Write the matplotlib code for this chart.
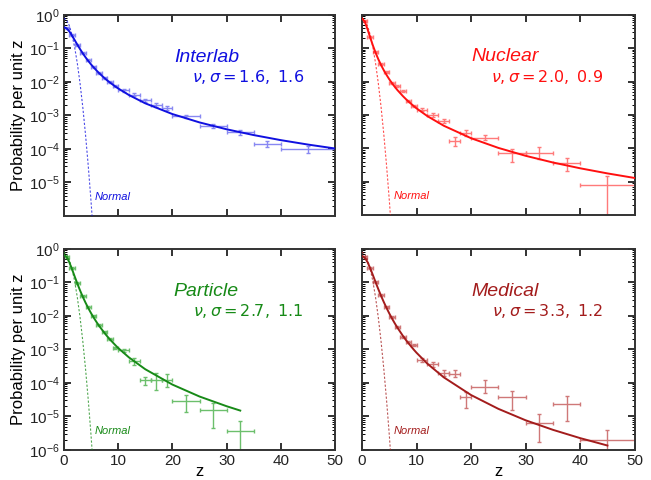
import numpy as np
import matplotlib
matplotlib.use('Agg')
import matplotlib.pyplot as plt
from matplotlib.ticker import LogLocator, NullFormatter

matplotlib.rcParams.update({'font.family': ['Liberation Sans', 'DejaVu Sans'],
                            'mathtext.fontset': 'dejavusans'})

# bins shared by all four data sets
z_bins = [0.5, 1.5, 2.5, 3.5, 4.5, 5.5, 6.5, 7.5, 8.5, 9.5,
          11, 13, 15, 17, 19, 22.5, 27.5, 32.5, 37.5, 45]
z_halfw = [0.5] * 10 + [1] * 5 + [2.5] * 4 + [5]

# fitted curves
z_curve = [0, 0.5, 1, 1.5, 2, 2.5, 3, 3.5, 4, 4.5, 5, 5.5, 6, 6.5, 7.5, 8, 8.5, 9.5,
           10, 12, 15, 20, 25, 30, 35, 40, 45, 50]
interlab_curve = [0.43, 0.398, 0.324, 0.243, 0.177, 0.129, 0.095, 0.0711, 0.0544, 0.0424,
                  0.0336, 0.0271, 0.0222, 0.0183, 0.0130, 0.0111, 0.0096, 0.00728, 0.00642,
                  0.00406, 0.00230, 0.00110, 0.000619, 0.000386, 0.000259, 0.000183,
                  0.000135, 0.000103]
nuclear_curve = [0.786, 0.634, 0.382, 0.213, 0.1217, 0.0734, 0.0468, 0.0314, 0.0219, 0.0159,
                 0.0118, 0.0090, 0.00702, 0.00557, 0.00368, 0.00305, 0.00255, 0.00184,
                 0.00158, 0.000921, 0.000475, 0.000201, 0.000103, 5.97e-5, 3.76e-5,
                 2.52e-5, 1.77e-5, 1.29e-5]
particle_curve = [0.663, 0.578, 0.404, 0.2515, 0.151, 0.0917, 0.0574, 0.0371, 0.0249, 0.0172,
                  0.01224, 0.00893, 0.00666, 0.00507, 0.00309, 0.00246, 0.00199, 0.00134,
                  0.00111, 0.000578, 0.000257, 8.95e-5, 3.94e-5, 2.02e-5]
particle_zend = 32.5
particle_yend = 1.50e-5
medical_curve = [0.617, 0.553, 0.409, 0.268, 0.166, 0.1015, 0.0628, 0.0398, 0.0260, 0.0174,
                 0.01195, 0.00843, 0.00607, 0.00447, 0.00255, 0.00197, 0.00155, 0.000985,
                 0.000798, 0.000375, 0.000147, 4.36e-5, 1.69e-5, 7.7e-6, 4.0e-6, 2.26e-6,
                 1.36e-6]

z_normal = [0, 0.5, 1, 1.5, 2, 2.5, 3, 3.5, 4, 4.5, 5, 5.5]
y_normal = [0.798, 0.704, 0.484, 0.259, 0.108, 0.0350, 0.00886, 0.00175, 0.000268,
            3.19e-5, 2.97e-6, 2.15e-7]

# measured points and their error bars (in decades below / above)
interlab_pts = [0.40, 0.25, 0.125, 0.072, 0.044, 0.028, 0.019, 0.0135, 0.0098, 0.0076,
                0.0056, 0.0042, 0.0028, 0.0021, 0.00166, 0.00093, 0.00048, 0.00031,
                0.00014, 1.0e-4]
interlab_lo = [0.03] * 10 + [0.04, 0.05, 0.05, 0.06, 0.07, 0.05, 0.07, 0.07, 0.10, 0.13]
interlab_hi = [0.03] * 10 + [0.04, 0.05, 0.05, 0.06, 0.07, 0.05, 0.07, 0.07, 0.10, 0.10]

nuclear_pts = [0.64, 0.22, 0.076, 0.033, 0.019, 0.0092, 0.0075, 0.0051, 0.0026, 0.0019,
               0.00145, 0.00103, 0.00066, 0.000165, 0.00029, 0.00021, 7.1e-5, 7.4e-5,
               3.7e-5, 7.9e-6]
nuclear_lo = [0.03] * 10 + [0.05, 0.06, 0.07, 0.15, 0.10, 0.08, 0.26, 0.20, 0.25, 2.0]
nuclear_hi = [0.03] * 10 + [0.05, 0.06, 0.07, 0.12, 0.10, 0.08, 0.14, 0.18, 0.15, 0.28]

particle_pts = [0.58, 0.26, 0.095, 0.040, 0.019, 0.0098, 0.0055, 0.0034, 0.0021, 0.00108,
                0.00093, 0.00044, 0.000123, 0.000123, 0.000123, 2.8e-5, 1.56e-5, 3.8e-6]
particle_lo = [0.03] * 10 + [0.05, 0.10, 0.15, 0.30, 0.20, 0.30, 0.55, 2.0]
particle_hi = [0.03] * 10 + [0.05, 0.10, 0.10, 0.22, 0.18, 0.20, 0.22, 0.30]

medical_pts = [0.56, 0.27, 0.105, 0.042, 0.0185, 0.0090, 0.0048, 0.0023, 0.0017, 0.0014,
               0.0005, 0.00036, 0.0002, 0.00019, 3.9e-5, 7.8e-5, 3.9e-5, 6.3e-6, 2.35e-5,
               2.0e-6]
medical_lo = [0.03] * 10 + [0.06, 0.07, 0.08, 0.10, 0.35, 0.18, 0.40, 0.56, 0.51, 2.0]
medical_hi = [0.03] * 10 + [0.06, 0.07, 0.08, 0.10, 0.15, 0.20, 0.18, 0.27, 0.24, 0.30]

panels = [
    ('Interlab', r'$\nu,\sigma = 1.6,\ 1.6$', '#1010e0', '#8888f2',
     z_curve, interlab_curve, interlab_pts, interlab_lo, interlab_hi),
    ('Nuclear', r'$\nu,\sigma = 2.0,\ 0.9$', '#ff1010', '#ff7a7a',
     z_curve, nuclear_curve, nuclear_pts, nuclear_lo, nuclear_hi),
    ('Particle', r'$\nu,\sigma = 2.7,\ 1.1$', '#178a17', '#6cbf6c',
     z_curve[:len(particle_curve)] + [particle_zend], particle_curve + [particle_yend],
     particle_pts, particle_lo, particle_hi),
    ('Medical', r'$\nu,\sigma = 3.3,\ 1.2$', '#a31c1c', '#cf7878',
     z_curve[:len(medical_curve)], medical_curve, medical_pts, medical_lo, medical_hi),
]

fig = plt.figure(figsize=(6.51, 4.8), dpi=100)
boxes = [[0.098, 0.55, 0.417, 0.419], [0.556, 0.552, 0.419, 0.417],
         [0.098, 0.0625, 0.417, 0.419], [0.556, 0.0625, 0.419, 0.419]]

for i, (name, params, col, ecol, zc, yc, pts, lo, hi) in enumerate(panels):
    ax = fig.add_axes(boxes[i])
    n = len(pts)
    zp = np.array(z_bins[:n])
    yp = np.array(pts)
    lo = np.array(lo)
    hi = np.array(hi)
    yerr = [yp - yp * 10 ** (-lo), yp * 10 ** hi - yp]
    ax.errorbar(zp, yp, xerr=z_halfw[:n], yerr=yerr, fmt='none', ecolor=ecol,
                elinewidth=1.0, capsize=1.5, capthick=1.0, zorder=2)
    ax.plot(zc, yc, color=col, lw=1.4, zorder=3)
    ax.plot(z_normal, y_normal, color=col, lw=0.8, ls=(0, (2, 1.6)), alpha=0.75, zorder=3)

    ax.set_yscale('log')
    ax.set_xlim(0, 50)
    ax.set_ylim(1e-6, 1)
    ax.set_xticks([0, 10, 20, 30, 40, 50])
    ax.yaxis.set_minor_locator(LogLocator(base=10, subs=np.arange(2, 10), numticks=10))
    ax.yaxis.set_minor_formatter(NullFormatter())
    ax.tick_params(which='major', direction='in', length=5, width=1.3, top=True, right=True,
                   labelsize=11, colors='#222222', pad=3)
    ax.tick_params(which='minor', direction='in', length=2.5, width=0.7, top=True, right=True)
    for s in ax.spines.values():
        s.set_linewidth(1.4)
        s.set_color('#333333')

    if i < 2:
        ax.tick_params(labelbottom=False)
        ax.set_yticks([1e-5, 1e-4, 1e-3, 1e-2, 1e-1, 1])
    else:
        ax.set_yticks([1e-6, 1e-5, 1e-4, 1e-3, 1e-2, 1e-1, 1])
        ax.set_xlabel('z', fontsize=12, labelpad=-3)
    if i % 2 == 1:
        ax.tick_params(labelleft=False)
    else:
        ax.set_ylabel('Probability per unit z', fontsize=12, labelpad=2)

    ax.text(0.525, 0.79, name, transform=ax.transAxes, color=col, fontsize=14,
            style='italic', ha='center', va='center')
    ax.text(0.68, 0.69, params, transform=ax.transAxes, color=col, fontsize=11.5,
            ha='center', va='center')
    ax.text(0.115, 0.095, 'Normal', transform=ax.transAxes, color=col, fontsize=8,
            style='italic', ha='left', va='center')

fig.savefig('out.png', dpi=100)
